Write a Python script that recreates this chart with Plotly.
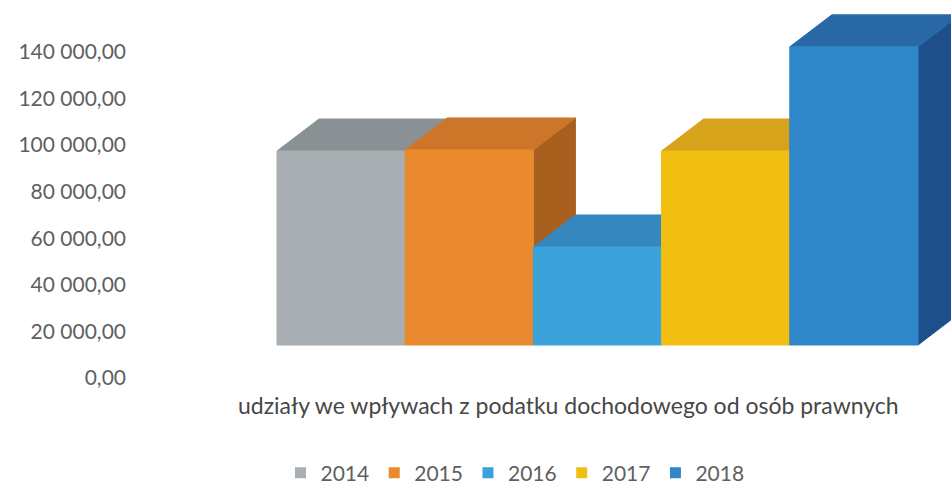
import plotly.graph_objects as go

# ---- data ----
years = ["2014", "2015", "2016", "2017", "2018"]
values = [95000, 95500, 48000, 95000, 146000]
tick_vals = [0, 20000, 40000, 60000, 80000, 100000, 120000, 140000]
tick_text = ["0,00", "20 000,00", "40 000,00", "60 000,00", "80 000,00",
             "100 000,00", "120 000,00", "140 000,00"]
category_label = "udziały we wpływach z podatku dochodowego od osób prawnych"

front_colors = ["#A8AEB1", "#E98A2E", "#3BA3D9", "#F1BE12", "#2F86C8"]
top_colors = ["#8A9194", "#CD7629", "#3587C0", "#D7A31B", "#2868A7"]
side_colors = ["#7E8487", "#A9601F", "#2A6E9E", "#B7891A", "#1E4F8B"]

# ---- layout geometry (pixels) ----
W, H = 951, 486
L, R, T, B = 135, 951, 5, 378          # plot area edges
lab_zero, lab_top = 378, 52            # pixel of 0 and 140000 on the label axis
front_zero = 345                       # pixel of front-face baseline
front_left, front_right = 277, 918     # pixel span of the front faces
depth_dx, depth_dy = 42, 32            # 3D depth offset in pixels
ref_px = 194                           # front height of first bar in pixels

# label axis range
lab_scale = (lab_zero - lab_top) / tick_vals[-1]
y1_range = [(lab_zero - B) / lab_scale, (lab_zero - T) / lab_scale]

# bar axis range
k = ref_px / values[0]
y2_range = [-(B - front_zero) / k, (front_zero - T) / k]

# x axis range
n = len(years)
px_x = (front_right - front_left) / n
x_range = [-0.5 - (front_left - L) / px_x, n - 0.5 + (R - front_right) / px_x]

ddx = depth_dx / px_x
ddy = depth_dy / k

fig = go.Figure()

def poly(xs, ys, color):
    fig.add_trace(go.Scatter(
        x=xs + [xs[0]], y=ys + [ys[0]], mode="lines", fill="toself",
        fillcolor=color, line=dict(color=color, width=1),
        xaxis="x", yaxis="y2", showlegend=False, hoverinfo="skip"))

for i, (yr, v) in enumerate(zip(years, values)):
    x0, x1 = i - 0.5, i + 0.5
    # side face
    poly([x1, x1 + ddx, x1 + ddx, x1], [0, ddy, v + ddy, v], side_colors[i])
    # top face
    poly([x0, x1, x1 + ddx, x0 + ddx], [v, v, v + ddy, v + ddy], top_colors[i])
    # front face
    poly([x0, x1, x1, x0], [0, 0, v, v], front_colors[i])

# legend entries
for i, yr in enumerate(years):
    fig.add_trace(go.Scatter(
        x=[None], y=[None], mode="markers", name=yr,
        marker=dict(symbol="square", size=11, color=front_colors[i]),
        xaxis="x", yaxis="y"))

fig.update_layout(
    width=W, height=H,
    margin=dict(l=L, r=W - R, t=T, b=H - B),
    paper_bgcolor="white", plot_bgcolor="white",
    font=dict(family="Lato", color="#5f5f5f", size=21),
    xaxis=dict(range=x_range, visible=False, fixedrange=True),
    yaxis=dict(range=y1_range, tickvals=tick_vals, ticktext=tick_text,
               showgrid=False, zeroline=False, showline=False, ticks="",
               ticklabelstandoff=8,
               tickfont=dict(family="Lato", size=21, color="#5f5f5f")),
    yaxis2=dict(range=y2_range, overlaying="y", visible=False),
    legend=dict(orientation="h", xref="container", yref="container",
                x=515 / W, y=1 - 473 / H, xanchor="center", yanchor="middle",
                font=dict(family="Lato", size=21, color="#5f5f5f"),
                itemwidth=30, tracegroupgap=0),
    annotations=[dict(text=category_label, xref="paper", yref="paper",
                      x=(568 - L) / (R - L), y=(B - 405) / (B - T),
                      xanchor="center", yanchor="middle", showarrow=False,
                      font=dict(family="Lato", size=23, color="#474747"))],
    showlegend=True,
    hovermode=False,
)

fig.write_html(
    "out.html",
    config={"displayModeBar": False, "staticPlot": True},
    post_script="document.body.style.margin='0';document.body.style.overflow='hidden';",
)
